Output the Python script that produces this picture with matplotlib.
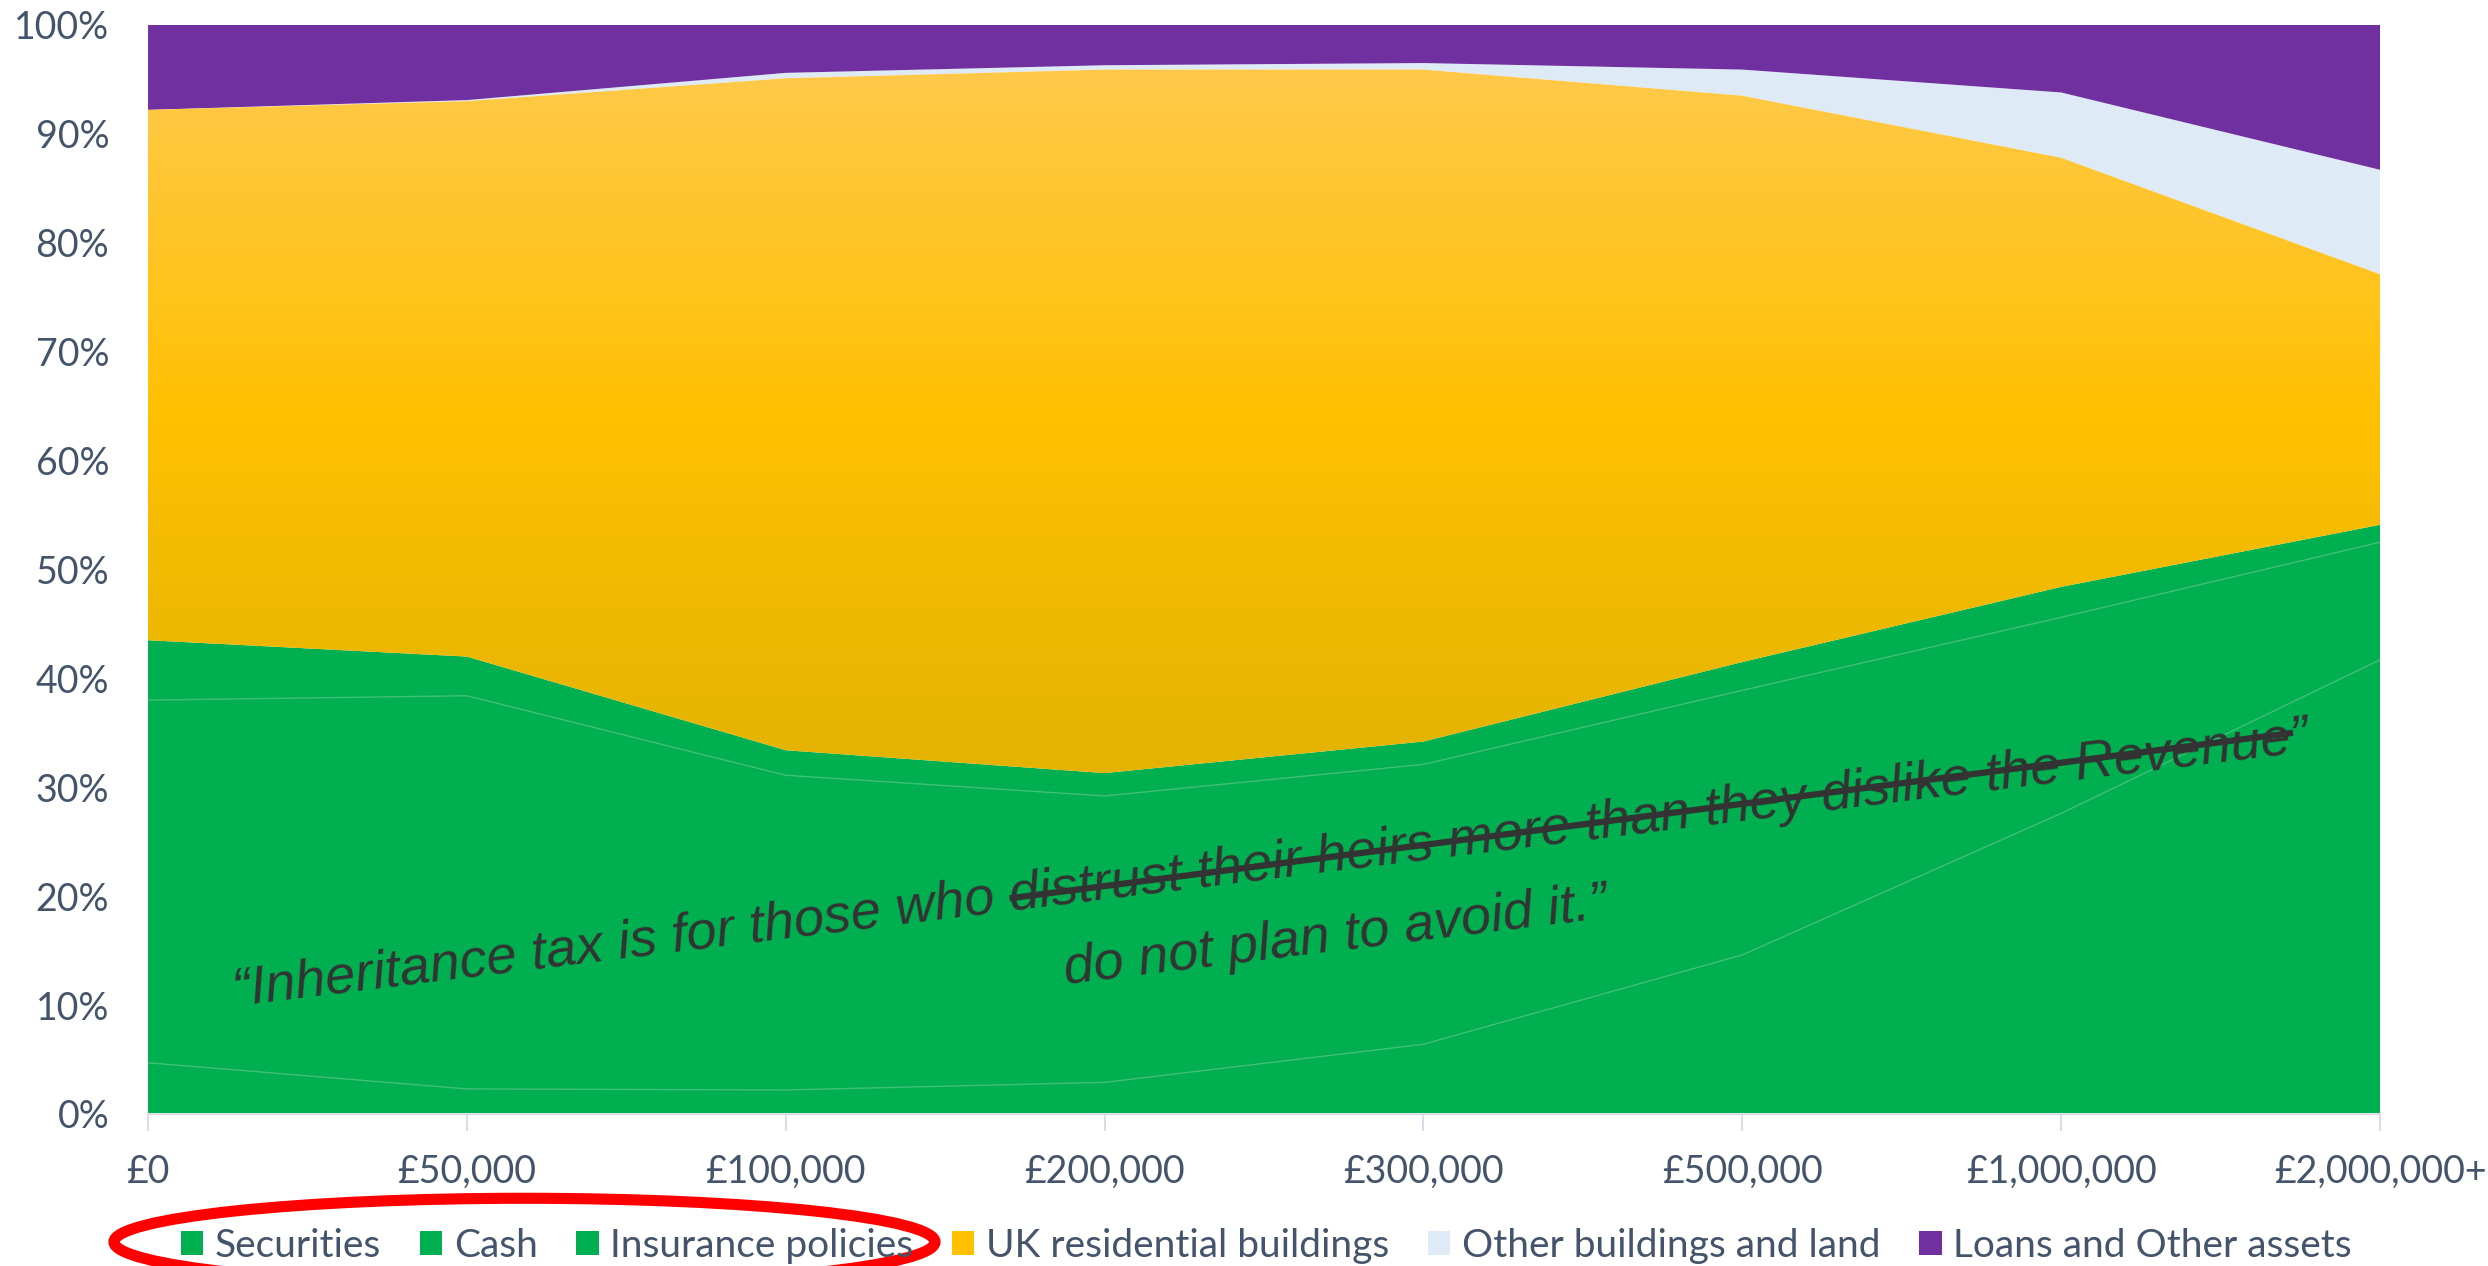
import numpy as np
import matplotlib.pyplot as plt
from matplotlib.colors import LinearSegmentedColormap
from matplotlib.patches import Ellipse, Patch

plt.rcParams['font.family'] = ['Lato', 'DejaVu Sans']

# estate size bands and share of each asset type (% of estate)
estate_bands = ['£0', '£50,000', '£100,000', '£200,000', '£300,000',
                '£500,000', '£1,000,000', '£2,000,000+']
securities = [4.7, 2.3, 2.2, 2.9, 6.4, 14.6, 27.6, 41.7]
cash = [33.3, 36.1, 28.9, 26.3, 25.7, 24.3, 18.0, 10.8]
insurance = [5.5, 3.6, 2.3, 2.1, 2.1, 2.6, 2.8, 1.6]
uk_residential = [48.7, 51.0, 61.7, 64.6, 61.7, 52.0, 39.4, 23.0]
other_buildings = [0.0, 0.1, 0.5, 0.4, 0.6, 2.4, 6.0, 9.6]
loans_other = [7.8, 6.9, 4.4, 3.7, 3.5, 4.1, 6.2, 13.3]

series_names = ['Securities', 'Cash', 'Insurance policies',
                'UK residential buildings', 'Other buildings and land',
                'Loans and Other assets']
series_colors = ['#00B050', '#00B050', '#00B050', '#FFC000', '#DEEAF6', '#7030A0']

quote_line1 = '\u201cInheritance tax is for those who distrust their heirs more than they dislike the Revenue\u201d'
quote_line2 = 'do not plan to avoid it.\u201d'

TEXT_COLOR = '#44546A'
AXIS_COLOR = '#D9DEE6'

fig = plt.figure(figsize=(24.88, 12.66), dpi=100)
ax = fig.add_axes([0.0595, 0.1201, 0.8971, 0.8602])

x = np.arange(len(estate_bands))
polys = ax.stackplot(x, securities, cash, insurance, uk_residential,
                     other_buildings, loans_other,
                     colors=series_colors, linewidth=0)

# gold gradient on the residential buildings layer
lower = np.array(securities) + np.array(cash) + np.array(insurance)
upper = lower + np.array(uk_residential)
gold = LinearSegmentedColormap.from_list('gold', ['#E3B300', '#FFC000', '#FFC94A'])
grad = np.linspace(0, 1, 256).reshape(-1, 1)
im = ax.imshow(grad, cmap=gold, origin='lower', aspect='auto',
               extent=[x[0], x[-1], lower.min(), upper.max()], zorder=1)
im.set_clip_path(polys[3].get_paths()[0], transform=ax.transData)
polys[3].set_facecolor('none')

# faint separators between the green layers
cum = np.array(securities)
ax.plot(x, cum, color='#3FBE78', lw=1, zorder=2)
cum = cum + np.array(cash)
ax.plot(x, cum, color='#3FBE78', lw=1, zorder=2)

ax.set_xlim(x[0], x[-1])
ax.set_ylim(0, 100)
ax.set_xticks(x)
ax.set_xticklabels(estate_bands)
ax.set_yticks(np.arange(0, 101, 10))
ax.set_yticklabels([f'{v}%' for v in range(0, 101, 10)])

for side in ['top', 'right', 'left']:
    ax.spines[side].set_visible(False)
ax.spines['bottom'].set_color(AXIS_COLOR)
ax.spines['bottom'].set_linewidth(1.5)
ax.spines['bottom'].set_zorder(5)
ax.tick_params(axis='x', length=12, width=1.5, color=AXIS_COLOR, pad=17,
               labelsize=27, labelcolor=TEXT_COLOR)
ax.tick_params(axis='y', length=0, pad=28, labelsize=27, labelcolor=TEXT_COLOR)

# quote with the struck-out part
ax.text(0.503, 0.229, quote_line1, transform=ax.transAxes, rotation=7,
        rotation_mode='anchor', ha='center', va='center', fontsize=39,
        style='italic', family=['Liberation Sans', 'DejaVu Sans'],
        color='#333333', zorder=6)
ax.text(0.532, 0.163, quote_line2, transform=ax.transAxes, rotation=7,
        rotation_mode='anchor', ha='center', va='center', fontsize=39,
        style='italic', family=['Liberation Sans', 'DejaVu Sans'],
        color='#333333', zorder=6)
ax.plot([0.386, 0.961], [0.198, 0.350], transform=ax.transAxes,
        color='#333333', lw=4.5, solid_capstyle='butt', zorder=7)

handles = [Patch(facecolor=c, edgecolor='none') for c in series_colors]
fig.legend(handles, series_names, loc='center', ncol=6,
           bbox_to_anchor=(0.509, 0.016), bbox_transform=fig.transFigure,
           frameon=False, fontsize=28, labelcolor=TEXT_COLOR,
           handlelength=0.57, handleheight=0.6, handletextpad=0.3,
           columnspacing=1.0)

fig.add_artist(Ellipse((0.2108, 0.019), 0.330, 0.069, transform=fig.transFigure,
                       fill=False, edgecolor='#FF0000', lw=8, clip_on=False))

fig.savefig('out.png', dpi=100)
